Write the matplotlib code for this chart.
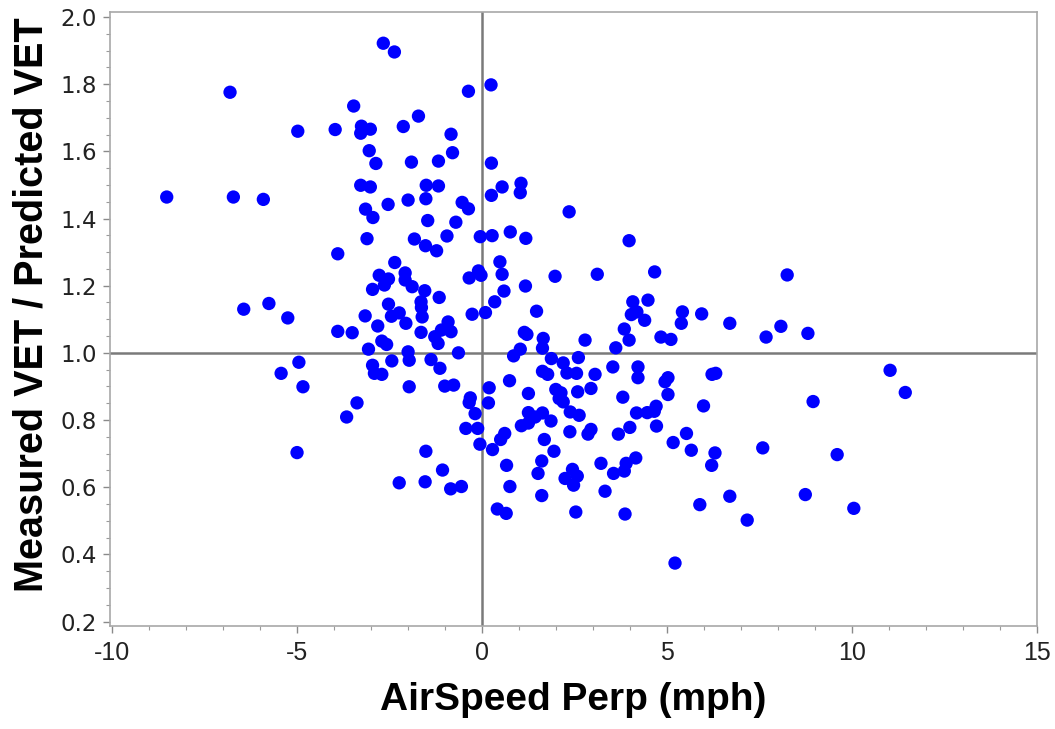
import numpy as np
import matplotlib
matplotlib.use('Agg')
import matplotlib.pyplot as plt
from matplotlib.ticker import MultipleLocator

# Airspeed perpendicular component (mph) for each run
airspeed_perp = [
    -2.66, -2.36, -6.80, -3.46, -1.71, -4.97, -3.96, -3.25, -3.01, -3.27,
    -2.12, -3.04, -2.86, -1.90, -3.27, -3.01, -8.51, -6.71, -5.90, -3.14,
    -2.53, -1.99, -2.94, -0.36, 0.25, -0.83, -0.79, -1.17, 0.26, -1.50,
    -1.17, 0.55, 1.06, 1.04, 0.26, -1.51, -0.53, -0.36, 2.36, -1.46,
    -0.70, -1.82, -1.52, -1.22, -0.94, -0.04, 0.28, 0.77, 1.19, 3.98,
    0.49, 0.55, -0.09, -0.02, -0.34, 1.98, 3.12, 4.67, -1.88, -1.54,
    -1.15, 1.18, 0.60, 0.35, -1.64, -1.63, -1.61, -0.26, 0.10, 1.48,
    -0.91, -1.09, -0.83, -1.64, -1.27, -1.18, 4.08, 4.49, 4.04, 4.19,
    4.40, 5.42, 5.94, 5.39, 3.85, 3.98, 4.84, 5.11, 1.15, 1.22,
    1.66, 2.79, 1.64, 1.04, 3.62, -0.63, 0.86, 1.88, 2.61, 2.20,
    -1.37, -1.13, 3.54, 4.22, 2.30, 2.56, 1.64, 1.78, 3.06, 4.22,
    6.22, 6.32, 5.03, 4.95, -1.00, -0.76, 0.75, 0.20, 2.95, 2.59,
    1.26, 2.00, 2.14, 2.09, 2.20, 5.03, 3.81, -0.31, -0.34, 0.18,
    5.99, 4.71, -0.18, 1.26, 1.64, 1.44, 2.39, 2.63, 4.18, 4.47,
    4.66, 1.87, -0.43, -0.11, -0.05, -1.51, -1.06, -1.53, -0.84, -0.55,
    0.29, 0.51, 0.62, 1.07, 1.26, 2.38, 2.87, 2.95, 3.69, 4.00,
    4.72, 1.69, 1.95, 1.62, 0.67, 1.52, 0.76, 1.62, 0.42, 0.66,
    2.54, 3.22, 3.56, 3.85, 3.90, 4.16, 3.33, 3.87, 5.17, 5.53,
    5.66, 6.30, 6.21, 5.89, 5.22, 2.25, 2.45, 2.48, 2.58, 7.59,
    9.60, 6.70, 8.74, 7.17, 10.05, 8.25, 6.70, 8.08, 7.68, 8.81,
    11.03, 11.44, 8.95, -3.10, -3.89, -2.35, -2.77, -2.52, -2.63, -2.07,
    -2.07, -2.95, -2.52, -2.44, -2.23, -3.15, -2.05, -2.81, -6.43, -5.75,
    -5.24, -3.89, -3.50, -2.70, -2.57, -3.06, -1.99, -1.96, -2.43, -4.94,
    -5.42, -2.95, -2.90, -2.70, -4.83, -1.96, -3.37, -3.65, -4.99, -2.23,
]

# Ratio of measured to predicted VET for the same runs
vet_ratio = [
    1.922, 1.896, 1.776, 1.735, 1.705, 1.660, 1.665, 1.675, 1.666, 1.654,
    1.674, 1.602, 1.564, 1.568, 1.499, 1.494, 1.464, 1.464, 1.457, 1.428,
    1.442, 1.455, 1.403, 1.779, 1.798, 1.651, 1.596, 1.571, 1.565, 1.499,
    1.497, 1.494, 1.505, 1.477, 1.469, 1.459, 1.448, 1.429, 1.420, 1.394,
    1.389, 1.339, 1.319, 1.304, 1.348, 1.346, 1.349, 1.360, 1.341, 1.334,
    1.271, 1.234, 1.244, 1.231, 1.223, 1.228, 1.234, 1.241, 1.197, 1.185,
    1.165, 1.199, 1.184, 1.152, 1.152, 1.135, 1.107, 1.115, 1.120, 1.124,
    1.092, 1.068, 1.063, 1.061, 1.048, 1.028, 1.152, 1.157, 1.114, 1.122,
    1.097, 1.122, 1.116, 1.088, 1.071, 1.038, 1.047, 1.040, 1.061, 1.055,
    1.043, 1.038, 1.014, 1.011, 1.015, 1.000, 0.991, 0.983, 0.986, 0.970,
    0.980, 0.954, 0.958, 0.958, 0.940, 0.939, 0.945, 0.936, 0.936, 0.926,
    0.936, 0.939, 0.926, 0.914, 0.901, 0.904, 0.917, 0.896, 0.894, 0.884,
    0.879, 0.891, 0.881, 0.864, 0.854, 0.876, 0.868, 0.866, 0.852, 0.851,
    0.842, 0.841, 0.819, 0.822, 0.821, 0.809, 0.824, 0.814, 0.821, 0.822,
    0.826, 0.797, 0.775, 0.775, 0.728, 0.707, 0.651, 0.616, 0.595, 0.602,
    0.712, 0.742, 0.760, 0.783, 0.791, 0.765, 0.758, 0.772, 0.758, 0.778,
    0.782, 0.742, 0.707, 0.678, 0.665, 0.641, 0.602, 0.575, 0.535, 0.522,
    0.526, 0.671, 0.641, 0.648, 0.671, 0.687, 0.588, 0.520, 0.733, 0.760,
    0.710, 0.702, 0.665, 0.548, 0.374, 0.626, 0.653, 0.606, 0.633, 0.717,
    0.697, 0.573, 0.578, 0.502, 0.537, 1.232, 1.088, 1.079, 1.047, 1.058,
    0.948, 0.882, 0.855, 1.340, 1.295, 1.269, 1.231, 1.220, 1.202, 1.238,
    1.217, 1.189, 1.145, 1.109, 1.119, 1.110, 1.088, 1.080, 1.130, 1.147,
    1.104, 1.064, 1.060, 1.035, 1.025, 1.011, 1.003, 0.978, 0.976, 0.972,
    0.939, 0.963, 0.939, 0.936, 0.899, 0.899, 0.851, 0.809, 0.703, 0.613,
]

x_ticks = [-10, -5, 0, 5, 10, 15]
y_ticks = [0.2, 0.4, 0.6, 0.8, 1.0, 1.2, 1.4, 1.6, 1.8, 2.0]

label_font = ['Liberation Sans', 'DejaVu Sans']

fig = plt.figure(figsize=(10.55, 7.29), dpi=100)
ax = fig.add_axes([0.104, 0.141, 0.879, 0.843])

# reference lines at zero crossing speed and ratio of one
ax.axvline(0, color='#7a7a7a', lw=1.8, zorder=1)
ax.axhline(1.0, color='#7a7a7a', lw=1.8, zorder=1)

ax.scatter(airspeed_perp, vet_ratio, s=92, c='#0000ff', edgecolors='none', zorder=3)

ax.set_xlim(-10.05, 14.98)
ax.set_ylim(0.186, 2.016)
ax.set_xticks(x_ticks)
ax.set_yticks(y_ticks)
ax.set_xticklabels([str(t) for t in x_ticks], family=label_font, fontsize=18, color='#222222')
ax.set_yticklabels(['%.1f' % t for t in y_ticks], family='DejaVu Sans', fontsize=16.5, color='#222222')
ax.xaxis.set_minor_locator(MultipleLocator(1))
ax.yaxis.set_minor_locator(MultipleLocator(0.05))
ax.tick_params(which='major', length=5, width=1, color='#8a8a8a', pad=4)
ax.tick_params(axis='x', which='major', pad=6)
ax.tick_params(which='minor', length=3, width=0.8, color='#9a9a9a')

for sp in ax.spines.values():
    sp.set_color('#a8a8a8')
    sp.set_linewidth(1.2)

ax.set_xlabel('AirSpeed Perp (mph)', family=label_font, fontweight='bold', fontsize=28)
ax.set_ylabel('Measured VET / Predicted VET', family=label_font, fontweight='bold', fontsize=28.5)
# label positions in axes coordinates
ax.xaxis.set_label_coords(0.5, -0.09)
ax.yaxis.set_label_coords(-0.064, 0.5225)

fig.savefig('out.png', dpi=100)
